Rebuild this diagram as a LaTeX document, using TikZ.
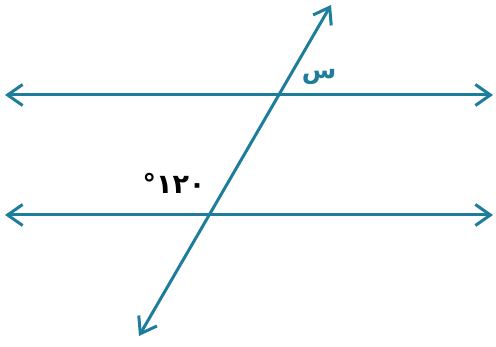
\documentclass[tikz,border=0pt]{standalone}
\usepackage{fontspec}
\usetikzlibrary{arrows.meta}
\TeXXeTstate=1
\newfontfamily\arabicfont[Script=Arabic]{DejaVu Sans}
\newfontfamily\numfont{DejaVu Sans}
\definecolor{lineteal}{RGB}{30,125,155}
\tikzset{
  >={Straight Barb[length=15pt,width=21pt]},
  line cap=round,
  line join=round,
  every picture/.style={line width=3pt},
  parline/.style={<->, draw=lineteal},
  angtext/.style={inner sep=0pt}
}

\begin{document}
\begin{tikzpicture}[x=1pt,y=1pt]
  \useasboundingbox (0,0) rectangle (496,347);

  % the two parallel lines
  \coordinate (topL) at (5,252);
  \coordinate (topR) at (493,252);
  \coordinate (botL) at (5,132);
  \coordinate (botR) at (493,132);
  \draw[parline] (topL) -- (topR);
  \draw[parline] (botL) -- (botR);

  % transversal
  \coordinate (transA) at (139,11);
  \coordinate (transB) at (331,342);
  \draw[parline] (transA) -- (transB);

  \node[angtext, text=lineteal, font=\arabicfont\bfseries\fontsize{25}{25}\selectfont] (unknown) at (319,270) {\beginR س\endR};
  \node[angtext, font=\numfont\bfseries\fontsize{27}{27}\selectfont] (given) at (174,164) {°١٢٠};
\end{tikzpicture}
\end{document}
